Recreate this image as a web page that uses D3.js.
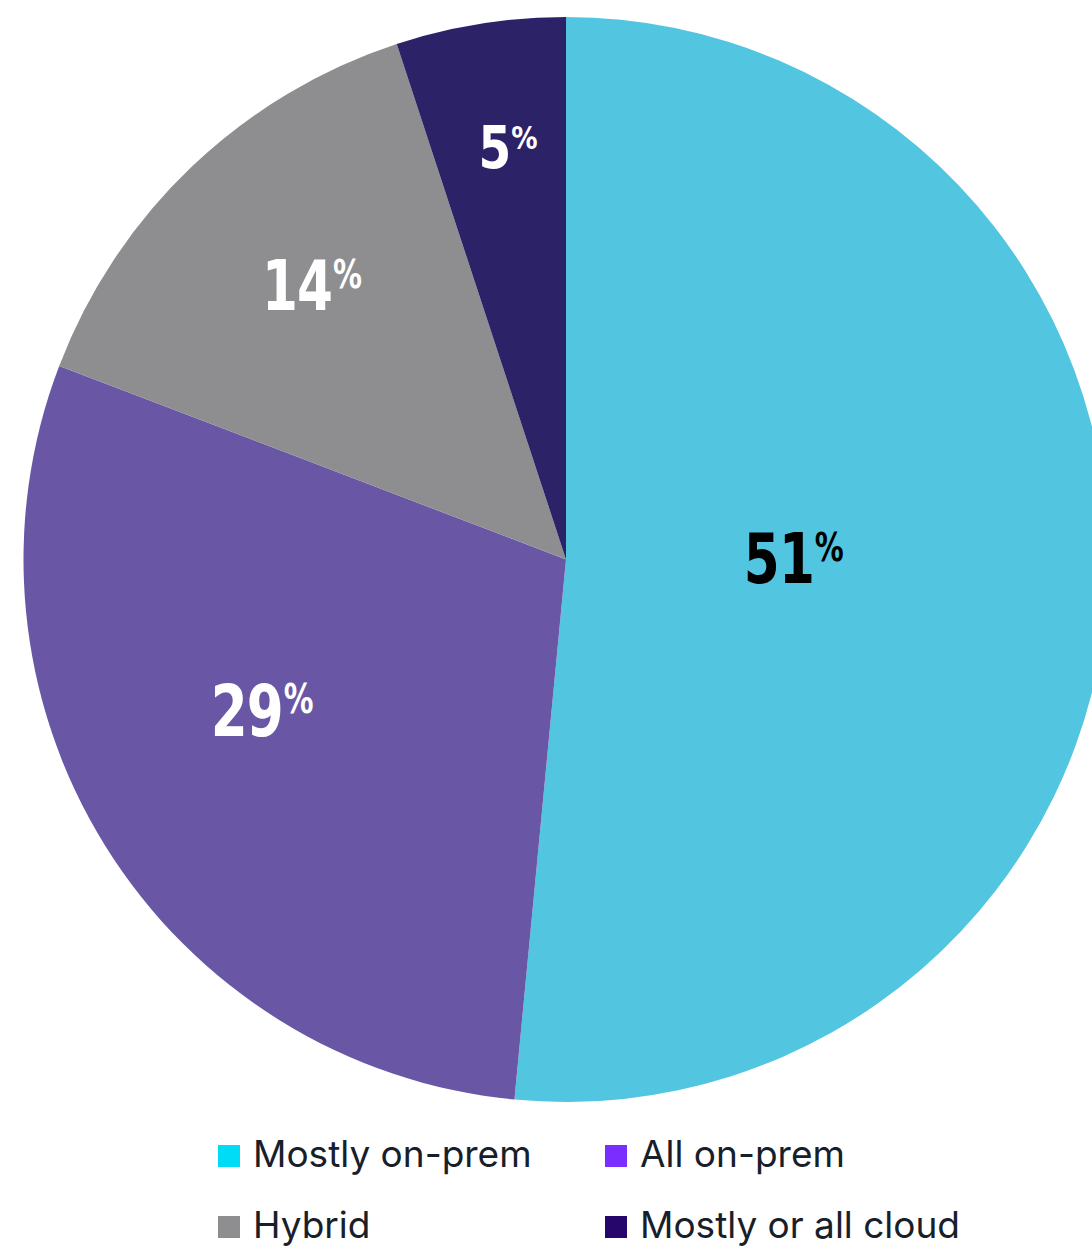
<!DOCTYPE html>
<html>
<head>
<meta charset="utf-8">
<script src="https://cdn.jsdelivr.net/npm/d3@7"></script>
<style>
  html, body { margin: 0; padding: 0; background: #fff; }
  svg { display: block; }
  .legend text { font-family: Inter, "Noto Sans", sans-serif; font-size: 37px; fill: #17202a; }
  .label { font-family: "Liberation Sans Narrow", "DejaVu Sans Condensed", "Liberation Sans", sans-serif; font-weight: 700; font-stretch: condensed; }
</style>
</head>
<body>
<div id="chart"></div>
<script>
// data
const categories = ['Mostly on-prem', 'All on-prem', 'Hybrid', 'Mostly or all cloud'];
const shares = [51, 29, 14, 5];
const sliceColors = ['#52c5e0', '#6957a5', '#8e8e90', '#2b2268'];
const legendColors = ['#00dcf5', '#7b2cff', '#8e8e90', '#26066a'];
const labelColors = ['#000', '#fff', '#fff', '#fff'];

// label placement (fraction of radius, angle nudge in degrees, font size)
const labelRadius = [0.42, 0.625, 0.69, 0.768];
const labelNudge = [-3.2, 5.5, 0.9, 1.1];
const labelSize = [70, 72, 70, 58];

const width = 1092, height = 1248;
const cx = 566, cy = 559.5, radius = 542.5;

const svg = d3.select('#chart').append('svg')
  .attr('width', width)
  .attr('height', height);

const g = svg.append('g').attr('transform', `translate(${cx},${cy})`);

const pie = d3.pie().sort(null).value(d => d.value);
const arcs = pie(categories.map((c, i) => ({ name: c, value: shares[i], i })));

const arc = d3.arc().innerRadius(0).outerRadius(radius);

g.selectAll('path.slice')
  .data(arcs)
  .join('path')
    .attr('class', 'slice')
    .attr('d', arc)
    .attr('fill', d => sliceColors[d.data.i]);

// value labels
const labels = g.selectAll('text.label')
  .data(arcs)
  .join('text')
    .attr('class', 'label')
    .attr('text-anchor', 'middle')
    .attr('fill', d => labelColors[d.data.i])
    .attr('transform', d => {
      const i = d.data.i;
      const a = (d.startAngle + d.endAngle) / 2 + labelNudge[i] * Math.PI / 180;
      const r = radius * labelRadius[i];
      const x = Math.sin(a) * r;
      const y = -Math.cos(a) * r + labelSize[i] * 0.716 / 2;
      return `translate(${x},${y}) scale(${i === 3 ? 0.9 : 0.82},1)`;
    });

labels.append('tspan')
  .attr('font-size', d => labelSize[d.data.i])
  .attr('letter-spacing', -1)
  .text(d => d.data.value);

labels.append('tspan')
  .attr('font-size', d => labelSize[d.data.i] * 0.56)
  .attr('dx', 1)
  .attr('dy', d => -(labelSize[d.data.i] * 0.716 - labelSize[d.data.i] * 0.56 * 0.716))
  .text('%');

// legend
const legendX = d3.scaleOrdinal().domain([0, 1]).range([218, 605]);
const legendY = d3.scaleOrdinal().domain([0, 1]).range([1167, 1238]);

const legend = svg.append('g').attr('class', 'legend')
  .selectAll('g')
  .data(categories)
  .join('g')
    .attr('transform', (d, i) => `translate(${legendX(i % 2)},${legendY(Math.floor(i / 2))})`);

legend.append('rect')
  .attr('x', 0)
  .attr('y', -22)
  .attr('width', 22)
  .attr('height', 22)
  .attr('fill', (d, i) => legendColors[i]);

legend.append('text')
  .attr('x', 35)
  .attr('y', 0)
  .text(d => d);
</script>
</body>
</html>
